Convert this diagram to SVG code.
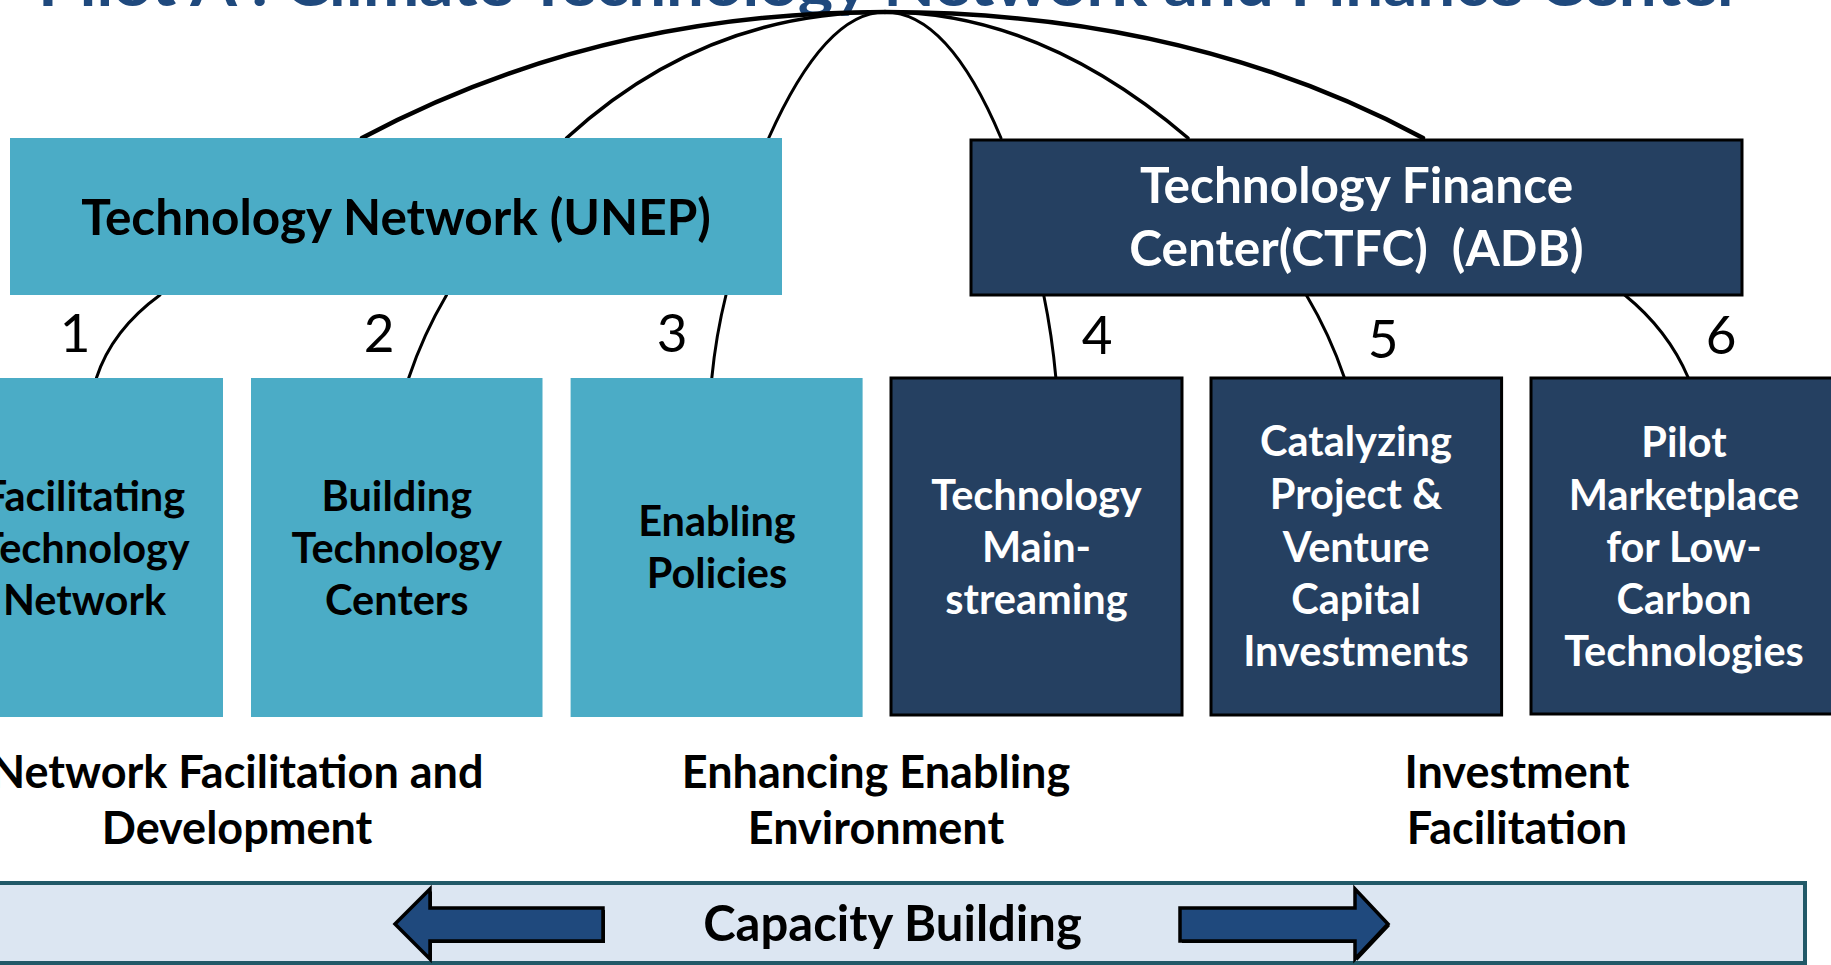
<svg xmlns="http://www.w3.org/2000/svg" width="1831" height="965" viewBox="0 0 1831 965">
<style>
.aqua{fill:#4BACC6;stroke:none}
.navy{fill:#254061;stroke:#000;stroke-width:3}
.t{font-family:Lato,"Open Sans","Liberation Sans",sans-serif;font-weight:bold;text-anchor:middle}
.bk{fill:#000}
.wh{fill:#fff}
.big{font-size:49.5px}
.box{font-size:41.5px}
.lab{font-size:45px}
.num{font-family:Lato,"Liberation Sans",sans-serif;font-weight:normal;font-size:53px;fill:#000;text-anchor:middle}
.arc{fill:none;stroke:#000;stroke-linecap:round}
.arrow{fill:#1F497D;stroke:#000;stroke-width:3.5;stroke-linejoin:miter}
</style>
<rect width="1831" height="965" fill="#fff"/>
<text id="title" x="38" y="6" font-family="Lato,'Liberation Sans',sans-serif" font-weight="bold" font-size="62" fill="#1F497D" textLength="1704" lengthAdjust="spacingAndGlyphs">Pilot A : Climate Technology Network and Finance Center</text>
<g id="connectors">
<path class="arc" stroke-width="4.5" d="M885,12 Q598,12 362,138"/>
<path class="arc" stroke-width="3.5" d="M885,12 Q704,12 566.6,138"/>
<path class="arc" stroke-width="3" d="M885,12 Q825,12 768.7,138"/>
<path class="arc" stroke-width="3" d="M885,12 Q948,12 1001,138"/>
<path class="arc" stroke-width="3.5" d="M885,12 Q1040,12 1188,138"/>
<path class="arc" stroke-width="4.5" d="M885,12 Q1188,12 1423,138"/>
<path class="arc" stroke-width="3" d="M160,295 Q112,330 96.4,378"/>
<path class="arc" stroke-width="3" d="M446.6,295 Q423,335 408.7,378"/>
<path class="arc" stroke-width="3" d="M726,295 Q716,335 711.8,378"/>
<path class="arc" stroke-width="3" d="M1043.7,295 Q1052,335 1055.9,378"/>
<path class="arc" stroke-width="3" d="M1306.3,295 Q1330,335 1344.5,378"/>
<path class="arc" stroke-width="3" d="M1624.7,295 Q1668,330 1688.4,378"/>
</g>
<g id="unep">
<rect class="aqua" x="10" y="138" width="772" height="157"/>
<text class="t bk big" x="396" y="235">Technology Network (UNEP)</text>
</g>
<g id="ctfc">
<rect class="navy" x="971" y="140" width="771" height="155"/>
<text class="t wh big" x="1356.5" y="203">Technology Finance</text>
<text class="t wh big" x="1356.5" y="266" xml:space="preserve">Center(CTFC)  (ADB)</text>
</g>
<g id="numbers">
<text class="num" x="75" y="352">1</text>
<text class="num" x="379" y="352">2</text>
<text class="num" x="672" y="352">3</text>
<text class="num" x="1097" y="354">4</text>
<text class="num" x="1383" y="358">5</text>
<text class="num" x="1721" y="354">6</text>
</g>
<g id="box1">
<rect class="aqua" x="-54" y="378" width="277" height="339"/>
<text class="t bk box" x="84.5" y="511">Facilitating</text>
<text class="t bk box" x="84.5" y="563">Technology</text>
<text class="t bk box" x="84.5" y="615">Network</text>
</g>
<g id="box2">
<rect class="aqua" x="251" y="378" width="291.5" height="339"/>
<text class="t bk box" x="396.8" y="511">Building</text>
<text class="t bk box" x="396.8" y="563">Technology</text>
<text class="t bk box" x="396.8" y="615">Centers</text>
</g>
<g id="box3">
<rect class="aqua" x="570.6" y="378" width="292" height="339"/>
<text class="t bk box" x="717" y="536">Enabling</text>
<text class="t bk box" x="717" y="588">Policies</text>
</g>
<g id="box4">
<rect class="navy" x="891" y="378" width="291" height="337"/>
<text class="t wh box" x="1036.5" y="510">Technology</text>
<text class="t wh box" x="1036.5" y="562">Main-</text>
<text class="t wh box" x="1036.5" y="614">streaming</text>
</g>
<g id="box5">
<rect class="navy" x="1211" y="378" width="290.6" height="337"/>
<text class="t wh box" x="1356" y="456">Catalyzing</text>
<text class="t wh box" x="1356" y="509">Project &amp;</text>
<text class="t wh box" x="1356" y="562">Venture</text>
<text class="t wh box" x="1356" y="614">Capital</text>
<text class="t wh box" x="1356" y="666">Investments</text>
</g>
<g id="box6">
<rect class="navy" x="1531" y="378" width="310" height="336"/>
<text class="t wh box" x="1684" y="457">Pilot</text>
<text class="t wh box" x="1684" y="510">Marketplace</text>
<text class="t wh box" x="1684" y="562">for Low-</text>
<text class="t wh box" x="1684" y="614">Carbon</text>
<text class="t wh box" x="1684" y="666">Technologies</text>
</g>
<g id="labels">
<text class="t bk lab" x="237" y="788">Network Facilitation and</text>
<text class="t bk lab" x="237" y="844">Development</text>
<text class="t bk lab" x="876" y="788">Enhancing Enabling</text>
<text class="t bk lab" x="876" y="844">Environment</text>
<text class="t bk lab" x="1517" y="788">Investment</text>
<text class="t bk lab" x="1517" y="844">Facilitation</text>
</g>
<g id="capacity">
<rect x="-5" y="883" width="1810" height="80" fill="#DCE6F2" stroke="#215968" stroke-width="4"/>
<polygon points="397,926 432,891 432,910 605,910 605,943 432,943 432,961" fill="#000"/>
<polygon class="arrow" points="395,924 430,889 430,908 603,908 603,941 430,941 430,959"/>
<polygon points="1182,910 1357,910 1357,891 1390,926 1357,961 1357,943 1182,943" fill="#000"/>
<polygon class="arrow" points="1180,908 1355,908 1355,889 1388,924 1355,959 1355,941 1180,941"/>
<text class="t bk" font-size="49" x="892.5" y="941">Capacity Building</text>
</g>
</svg>
